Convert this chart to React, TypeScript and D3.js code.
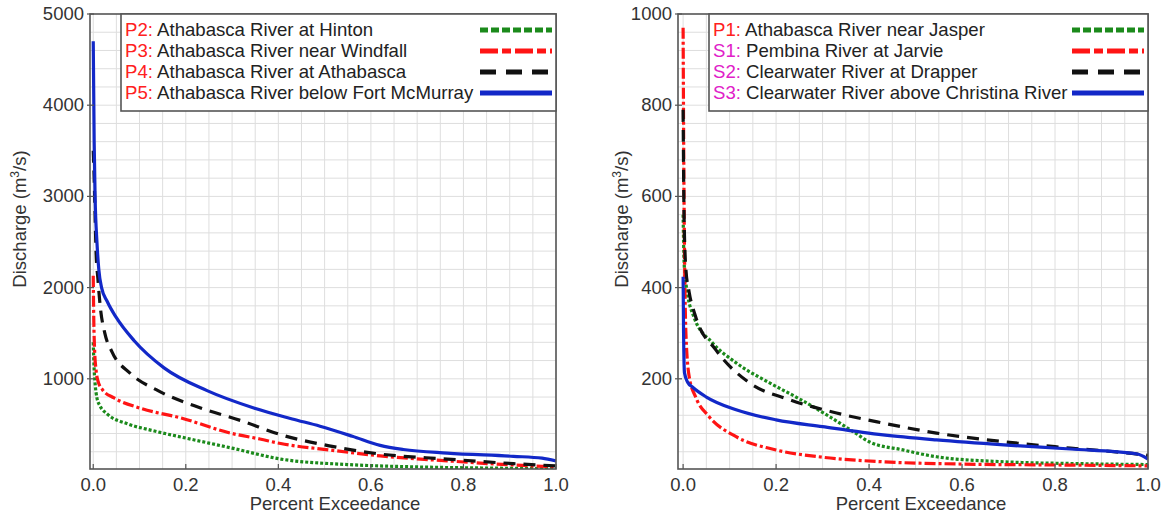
import * as d3 from "d3";
import React, { useEffect, useRef } from "react";

// left panel: Athabasca mainstem stations
const pctP2 = [0, 0.002, 0.004, 0.008, 0.015, 0.03, 0.075, 0.13, 0.2, 0.3, 0.405, 0.549, 0.69, 0.84, 1.0];
const qP2 = [1400, 1100, 950, 790, 700, 615, 505, 430, 350, 240, 120, 60, 35, 22, 15];

const pctP3 = [0, 0.001, 0.003, 0.006, 0.01, 0.02, 0.045, 0.1, 0.19, 0.3, 0.36, 0.405, 0.51, 0.62, 0.765, 0.908, 1.0];
const qP3 = [2130, 1700, 1310, 1100, 980, 880, 790, 680, 570, 400, 340, 290, 220, 155, 100, 55, 35];

const pctP4 = [0, 0.002, 0.004, 0.006, 0.01, 0.015, 0.025, 0.04, 0.08, 0.14, 0.232, 0.32, 0.41, 0.51, 0.62, 0.765, 0.908, 1.0];
const qP4 = [3500, 3200, 2800, 2400, 2100, 1800, 1500, 1300, 1060, 870, 680, 540, 380, 265, 175, 120, 70, 45];

const pctP5 = [0, 0.002, 0.004, 0.008, 0.012, 0.018, 0.03, 0.05, 0.088, 0.153, 0.246, 0.347, 0.43, 0.49, 0.56, 0.62, 0.67, 0.765, 0.908, 0.97, 1.0];
const qP5 = [4700, 3600, 3000, 2500, 2200, 2000, 1850, 1670, 1420, 1120, 870, 680, 560, 480, 370, 270, 225, 185, 150, 130, 100];

// right panel: upstream station and tributaries
const pctP1 = [0, 0.002, 0.006, 0.023, 0.063, 0.114, 0.186, 0.243, 0.315, 0.372, 0.4, 0.473, 0.545, 0.69, 0.85, 1.0];
const qP1 = [560, 460, 410, 336, 279, 235, 191, 160, 117, 80, 62, 44, 29, 18, 14, 12];

const pctS1 = [0, 0.001, 0.003, 0.006, 0.013, 0.027, 0.056, 0.114, 0.2, 0.3, 0.43, 0.6, 0.8, 1.0];
const qS1 = [970, 750, 480, 300, 205, 160, 117, 73, 44, 28, 18, 13, 11, 9];

const pctS2 = [0, 0.002, 0.006, 0.013, 0.027, 0.07, 0.143, 0.23, 0.33, 0.43, 0.545, 0.69, 0.833, 0.977, 1.0];
const qS2 = [790, 560, 440, 390, 336, 264, 191, 154, 125, 103, 81, 62, 48, 35, 32];

const pctS3 = [0, 0.001, 0.003, 0.01, 0.02, 0.05, 0.114, 0.2, 0.3, 0.43, 0.545, 0.69, 0.833, 0.977, 1.0];
const qS3 = [424, 300, 213, 192, 182, 160, 132, 110, 95, 77, 66, 55, 46, 35, 24];

const xTicks = [0, 0.2, 0.4, 0.6, 0.8, 1.0];
const leftYTicks = [1000, 2000, 3000, 4000, 5000];
const rightYTicks = [200, 400, 600, 800, 1000];

const leftCodes = ["P2:", "P3:", "P4:", "P5:"];
const leftNames = [
  "Athabasca River at Hinton",
  "Athabasca River near Windfall",
  "Athabasca River at Athabasca",
  "Athabasca River below Fort McMurray",
];
const rightCodes = ["P1:", "S1:", "S2:", "S3:"];
const rightNames = [
  "Athabasca River near Jasper",
  "Pembina River at Jarvie",
  "Clearwater River at Drapper",
  "Clearwater River above Christina River",
];

const FONT = "'Liberation Sans', Arial, sans-serif";

const styles = [
  { color: "#1b8a1b", dash: "3,2", legendDash: "8,3" },
  { color: "#ff1414", dash: "11,3,3,3", legendDash: "18,4,9,4" },
  { color: "#111111", dash: "12,8", legendDash: "16,10" },
  { color: "#1228c8", dash: null, legendDash: null },
];

const panels = [
  {
    id: "l",
    left: 90, right: 556, top: 14, bottom: 469,
    xDomain: [-0.007, 1], yDomain: [0, 5000], yStep: 200, yTicks: leftYTicks,
    legendLeft: 121, codeColors: ["#ff2020", "#ff2020", "#ff2020", "#ff2020"],
    codes: leftCodes, names: leftNames,
    xs: [pctP2, pctP3, pctP4, pctP5], ys: [qP2, qP3, qP4, qP5],
    yLabelX: 26, xLabelX: 335,
  },
  {
    id: "r",
    left: 678, right: 1148, top: 14, bottom: 469,
    xDomain: [-0.011, 1], yDomain: [0, 1000], yStep: 40, yTicks: rightYTicks,
    legendLeft: 709, codeColors: ["#ff2020", "#e020c8", "#e020c8", "#e020c8"],
    codes: rightCodes, names: rightNames,
    xs: [pctP1, pctS1, pctS2, pctS3], ys: [qP1, qS1, qS2, qS3],
    yLabelX: 628, xLabelX: 921,
  },
];

function drawPanel(svg, p) {
  const x = d3.scaleLinear().domain(p.xDomain).range([p.left, p.right]);
  const y = d3.scaleLinear().domain(p.yDomain).range([p.bottom + 1, p.top]);
  const g = svg.append("g");

  g.append("clipPath").attr("id", "clip-" + p.id)
    .append("rect")
    .attr("x", p.left).attr("y", p.top)
    .attr("width", p.right - p.left).attr("height", p.bottom - p.top);

  // grid
  const gx = d3.range(0, 1.0001, 0.05);
  const gy = d3.range(p.yStep, p.yDomain[1], p.yStep);
  g.selectAll(".gx").data(gx).enter().append("line")
    .attr("x1", (d) => x(d)).attr("x2", (d) => x(d))
    .attr("y1", p.top).attr("y2", p.bottom)
    .attr("stroke", "#dedede").attr("stroke-width", 1);
  g.selectAll(".gy").data(gy).enter().append("line")
    .attr("x1", p.left).attr("x2", p.right)
    .attr("y1", (d) => y(d)).attr("y2", (d) => y(d))
    .attr("stroke", "#dedede").attr("stroke-width", 1);

  // curves
  const line = d3.line().x((d) => x(d[0])).y((d) => y(d[1])).curve(d3.curveMonotoneX);
  p.xs.forEach((xsArr, i) => {
    const pts = xsArr.map((v, j) => [v, p.ys[i][j]]);
    g.append("path")
      .attr("d", line(pts))
      .attr("fill", "none")
      .attr("stroke", styles[i].color)
      .attr("stroke-width", 3.2)
      .attr("stroke-dasharray", styles[i].dash)
      .attr("clip-path", `url(#clip-${p.id})`);
  });

  // ticks
  g.selectAll(".tx").data(xTicks).enter().append("line")
    .attr("x1", (d) => x(d)).attr("x2", (d) => x(d))
    .attr("y1", p.bottom).attr("y2", p.bottom - 5)
    .attr("stroke", "#555").attr("stroke-width", 1.2);
  g.selectAll(".ty").data(p.yTicks).enter().append("line")
    .attr("x1", p.left - 3).attr("x2", p.left + 4)
    .attr("y1", (d) => y(d)).attr("y2", (d) => y(d))
    .attr("stroke", "#555").attr("stroke-width", 1.2);

  // frame
  g.append("rect")
    .attr("x", p.left).attr("y", p.top)
    .attr("width", p.right - p.left).attr("height", p.bottom - p.top)
    .attr("fill", "none").attr("stroke", "#555").attr("stroke-width", 1.6);

  // tick labels
  g.selectAll(".lx").data(xTicks).enter().append("text")
    .attr("x", (d) => x(d)).attr("y", 491)
    .attr("text-anchor", "middle")
    .attr("font-family", FONT).attr("font-size", 18.5).attr("fill", "#333")
    .text((d) => d3.format(".1f")(d));
  g.selectAll(".ly").data(p.yTicks).enter().append("text")
    .attr("x", p.left - 6).attr("y", (d) => y(d) + 6)
    .attr("text-anchor", "end")
    .attr("font-family", FONT).attr("font-size", 18.5).attr("fill", "#333")
    .text((d) => d);

  // axis titles
  g.append("text")
    .attr("x", p.xLabelX).attr("y", 510)
    .attr("text-anchor", "middle")
    .attr("font-family", FONT).attr("font-size", 18.5).attr("fill", "#333")
    .text("Percent Exceedance");
  const yl = g.append("text")
    .attr("transform", `translate(${p.yLabelX},219) rotate(-90)`)
    .attr("text-anchor", "middle")
    .attr("font-family", FONT).attr("font-size", 18.5).attr("fill", "#333");
  yl.append("tspan").text("Discharge (m");
  yl.append("tspan").attr("font-size", 12).attr("dy", -7).text("3");
  yl.append("tspan").attr("dy", 7).text("/s)");

  // legend
  const lb = { x: p.legendLeft, y: p.top, w: p.right - p.legendLeft, h: 97 };
  g.append("rect")
    .attr("x", lb.x).attr("y", lb.y).attr("width", lb.w).attr("height", lb.h)
    .attr("fill", "#fff").attr("stroke", "#555").attr("stroke-width", 1.6);
  p.names.forEach((name, i) => {
    const cy = 30 + i * 21;
    const t = g.append("text")
      .attr("x", lb.x + 4).attr("y", cy + 6)
      .attr("font-family", FONT).attr("font-size", 18.6).attr("fill", "#222");
    t.append("tspan").attr("fill", p.codeColors[i]).text(p.codes[i]);
    t.append("tspan").text(" " + name);
    g.append("line")
      .attr("x1", p.right - 76).attr("x2", p.right - 4)
      .attr("y1", cy).attr("y2", cy)
      .attr("stroke", styles[i].color)
      .attr("stroke-width", 5)
      .attr("stroke-dasharray", styles[i].legendDash);
  });
}

function App() {
  const ref = useRef(null);

  useEffect(() => {
    const svg = d3.select(ref.current);
    svg.selectAll("*").remove();
    panels.forEach((p) => drawPanel(svg, p));
  }, []);

  return (
    <svg
      ref={ref}
      width={1168}
      height={516}
      style={{ position: "absolute", left: 0, top: 0, background: "#fff" }}
    />
  );
}

export default App;
